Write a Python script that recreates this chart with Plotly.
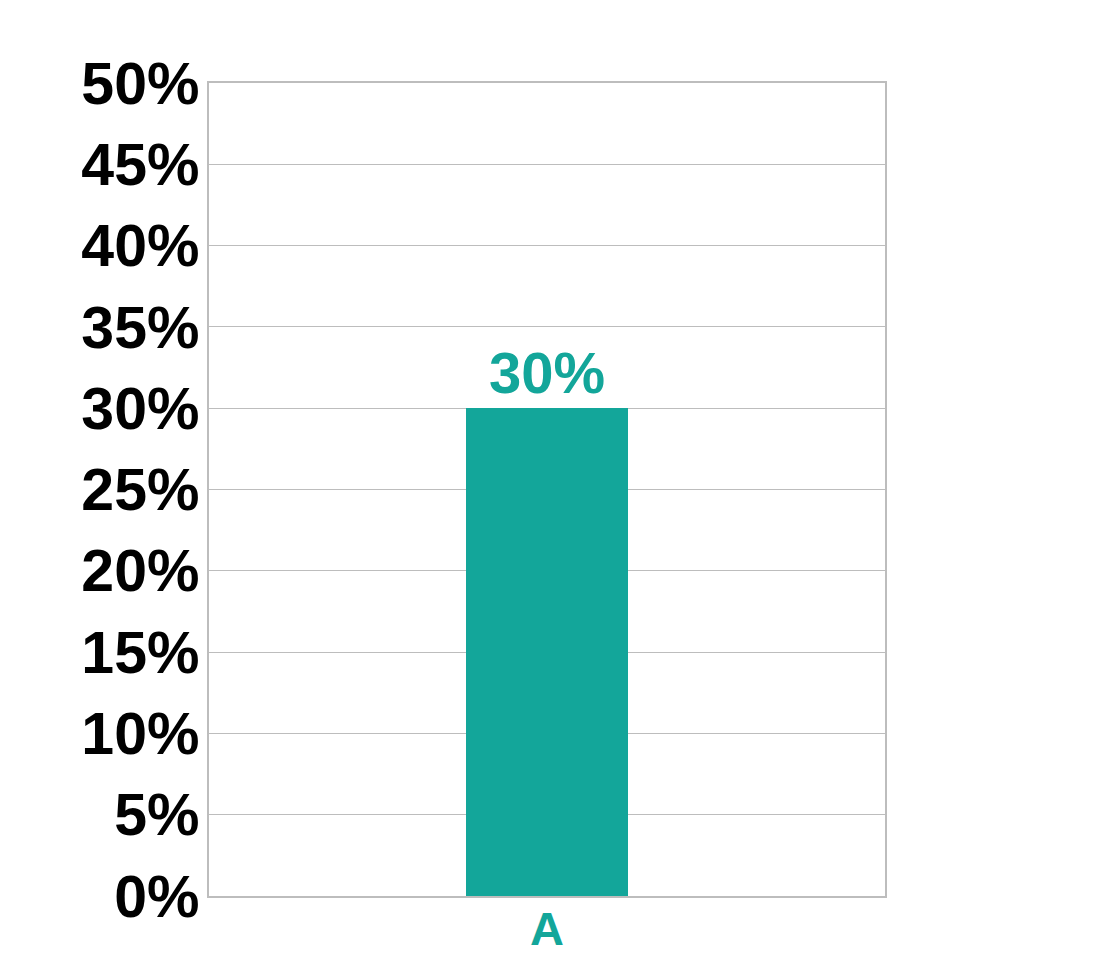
import plotly.graph_objects as go

# 数据
categories = ["A"]
values = [30]
labels = ["30%"]
y_ticks = [0, 5, 10, 15, 20, 25, 30, 35, 40, 45, 50]
y_tick_text = ["0%", "5%", "10%", "15%", "20%", "25%", "30%", "35%", "40%", "45%", "50%"]

TEAL = "#13a69a"
FONT = "Liberation Sans, Arial, Helvetica, sans-serif"

fig = go.Figure()
fig.add_trace(go.Bar(
    x=categories, y=values, text=labels, textposition="outside",
    textfont=dict(family=FONT, size=58, color=TEAL, weight="bold"),
    marker=dict(color=TEAL, line=dict(width=0)),
    width=0.241, cliponaxis=False, showlegend=False, hoverinfo="skip"
))

# 页面有 8px 边距，这里把边距往回收
fig.update_layout(
    width=1095, height=980,
    margin=dict(l=201, r=218, t=75, b=92),
    paper_bgcolor="white", plot_bgcolor="white",
    bargap=0,
)
fig.update_xaxes(
    range=[-0.5, 0.5], showgrid=False, showline=True, linecolor="#bdbdbd", linewidth=1.5,
    mirror=True, ticks="", ticklabelstandoff=-9,
    tickfont=dict(family=FONT, size=47, color=TEAL, weight="bold")
)
fig.update_yaxes(
    range=[0, 50], tickvals=y_ticks, ticktext=y_tick_text,
    showgrid=True, gridcolor="#bdbdbd", gridwidth=1.2, zeroline=False,
    showline=True, linecolor="#bdbdbd", linewidth=1.5, mirror=True, ticks="",
    ticklabelstandoff=-4,
    tickfont=dict(family=FONT, size=59, color="black", weight="bold")
)

fig.write_html("out.html")
